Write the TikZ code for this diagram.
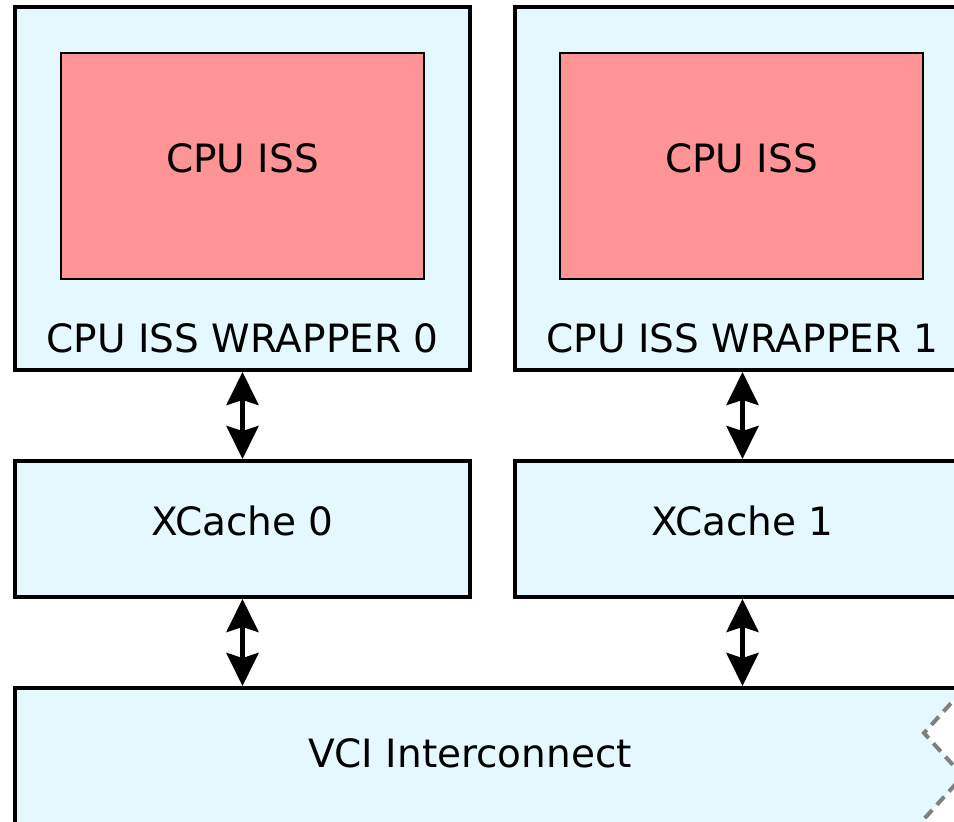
\documentclass[tikz,border=0pt]{standalone}
\usepackage{fontspec}
\setmainfont{DejaVu Sans}
\usetikzlibrary{arrows.meta}
\definecolor{boxblue}{RGB}{229,248,255}
\definecolor{isspink}{RGB}{255,148,150}
\definecolor{tornGray}{RGB}{128,128,128}
\begin{document}
\begin{tikzpicture}[x=1pt,y=-1pt,
  bluebox/.style={draw=black, line width=4pt, fill=boxblue, rectangle, inner sep=0pt},
  pinkbox/.style={draw=black, line width=2pt, fill=isspink, rectangle, inner sep=0pt},
  lbl/.style={inner sep=0pt, anchor=base, font=\fontsize{39}{47}\selectfont},
  dbl/.style={line width=4.5pt, {Stealth[length=33pt,width=32pt,inset=5pt]}-{Stealth[length=33pt,width=32pt,inset=5pt]}},
  torn/.style={draw=tornGray, line width=4pt, dash pattern=on 11pt off 7pt}
]
\useasboundingbox (0,0) rectangle (954,822);
\clip (0,0) rectangle (954,822);

% wrappers
\node[bluebox, minimum width=455pt, minimum height=363pt] (w0) at (242.5,188.5) {};
\node[bluebox, minimum width=455pt, minimum height=363pt] (w1) at (742.5,188.5) {};
\node[pinkbox, minimum width=363pt, minimum height=226pt] (c0) at (242.5,166) {};
\node[pinkbox, minimum width=363pt, minimum height=226pt] (c1) at (741.5,166) {};
\node[lbl] (c0t) at (242.5,172) {CPU ISS};
\node[lbl] (c1t) at (741.5,172) {CPU ISS};
\node[lbl] (w0t) at (242.5,352) {CPU ISS WRAPPER 0};
\node[lbl] (w1t) at (742.5,352) {CPU ISS WRAPPER 1};

% caches
\node[bluebox, minimum width=455pt, minimum height=136pt] (x0) at (242.5,529) {};
\node[bluebox, minimum width=455pt, minimum height=136pt] (x1) at (742.5,529) {};
\node[lbl] (x0t) at (242.5,535) {XCache 0};
\node[lbl] (x1t) at (742.5,535) {XCache 1};

% interconnect with torn right edge
\coordinate (vtl) at (15,688);
\coordinate (vtr) at (1000,688);
\coordinate (z0) at (963,690);
\coordinate (z1) at (924,733);
\coordinate (z2) at (963,776);
\coordinate (z3) at (924,819);
\coordinate (z4) at (963,862);
\coordinate (vbl) at (15,880);
\fill[boxblue] (vtl) -- (963,688) -- (z0) -- (z1) -- (z2) -- (z3) -- (z4) -- (963,880) -- (vbl) -- cycle;
\draw[line width=4pt] (vbl) -- (vtl) -- (vtr);
\draw[torn] (z0) -- (z1) -- (z2) -- (z3) -- (z4);
\node[lbl] (vt) at (470,767) {VCI Interconnect};
\coordinate (v0) at (242.5,686);
\coordinate (v1) at (742.5,686);

% connectors
\draw[dbl] (w0.south) -- (x0.north);
\draw[dbl] (w1.south) -- (x1.north);
\draw[dbl] (x0.south) -- (v0);
\draw[dbl] (x1.south) -- (v1);
\end{tikzpicture}
\end{document}
